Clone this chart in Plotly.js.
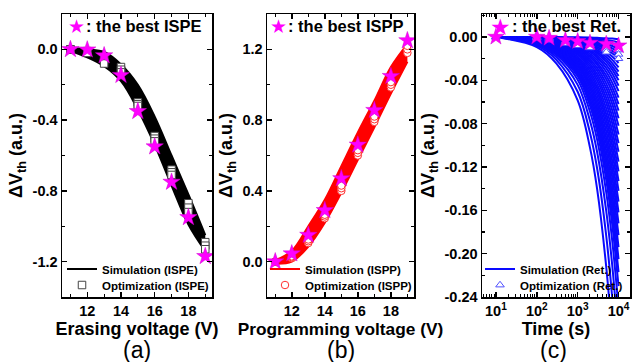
<!DOCTYPE html>
<html><head><meta charset="utf-8">
<script src="https://cdn.plot.ly/plotly-3.0.1.min.js"></script>
<style>html,body{margin:0;padding:0;background:#fff}#chart{width:632px;height:362px}</style>
</head><body><div id="chart"></div>
<script>
// ---------- data ----------
const voltage = [11, 12, 13, 14, 15, 16, 17, 18, 19];

// (a) ISPE
const ispeSimUpper = [0.008, 0.0, -0.015, -0.085, -0.2, -0.38, -0.6, -0.82, -1.05];
const ispeSimLower = [-0.008, -0.045, -0.095, -0.18, -0.34, -0.54, -0.77, -0.99, -1.14];
const ispeOpt1 = [0, -0.01, -0.05, -0.10, -0.30, -0.49, -0.68, -0.87, -1.09];
const ispeOpt2 = [0, -0.015, -0.065, -0.115, -0.31, -0.505, -0.695, -0.895, -1.11];
const ispeOpt3 = [0, -0.02, -0.08, -0.13, -0.32, -0.52, -0.71, -0.92, -1.13];
const ispeBest = [0, -0.002, -0.035, -0.146, -0.35, -0.55, -0.75, -0.95, -1.17];

// (b) ISPP
const isppSimUpper = [0.008, 0.06, 0.2, 0.35, 0.54, 0.73, 0.91, 1.1, 1.23];
const isppSimLower = [-0.012, 0.0, 0.085, 0.22, 0.39, 0.575, 0.76, 0.95, 1.13];
const isppOpt1 = [0, 0.02, 0.105, 0.245, 0.40, 0.60, 0.79, 0.985, 1.18];
const isppOpt2 = [0, 0.025, 0.115, 0.255, 0.415, 0.615, 0.805, 1.0, 1.20];
const isppOpt3 = [0, 0.03, 0.125, 0.265, 0.43, 0.63, 0.82, 1.015, 1.22];
const isppBest = [0, 0.045, 0.15, 0.29, 0.47, 0.66, 0.856, 1.048, 1.25];

// (c) Retention
const simTime = [10, 100, 300, 1000, 2000, 3000, 5000, 7000, 10000];
const retSim = [
  [0, -0.0001, -0.0001, -0.0003, -0.0006, -0.0008, -0.0011, -0.0015, -0.002],
  [0, -0.0001, -0.0003, -0.0008, -0.0014, -0.0019, -0.0029, -0.0038, -0.005],
  [0, -0.0002, -0.0005, -0.0013, -0.0022, -0.003, -0.0046, -0.006, -0.008],
  [0, -0.0003, -0.0007, -0.0017, -0.003, -0.0042, -0.0063, -0.0083, -0.011],
  [0, -0.0004, -0.0009, -0.0022, -0.0039, -0.0053, -0.008, -0.0105, -0.014],
  [0, -0.0004, -0.0011, -0.0027, -0.0047, -0.0065, -0.0098, -0.0128, -0.017],
  [0, -0.0005, -0.0013, -0.0032, -0.0055, -0.0076, -0.0115, -0.015, -0.02],
  [0, -0.0006, -0.0016, -0.0038, -0.0066, -0.0091, -0.0138, -0.018, -0.024],
  [0, -0.0007, -0.0018, -0.0044, -0.0077, -0.0106, -0.0161, -0.0211, -0.028],
  [0, -0.0008, -0.0021, -0.0051, -0.0088, -0.0122, -0.0184, -0.0241, -0.032],
  [0, -0.0009, -0.0024, -0.0057, -0.0099, -0.0137, -0.0207, -0.0271, -0.036],
  [0, -0.001, -0.0026, -0.0063, -0.011, -0.0152, -0.023, -0.0301, -0.04],
  [0, -0.0011, -0.003, -0.0071, -0.0124, -0.0171, -0.0258, -0.0338, -0.045],
  [0, -0.0013, -0.0033, -0.0079, -0.0138, -0.019, -0.0287, -0.0376, -0.05],
  [0, -0.0014, -0.0037, -0.0088, -0.0155, -0.0213, -0.0321, -0.0421, -0.056],
  [0, -0.0016, -0.0041, -0.0098, -0.0171, -0.0236, -0.0356, -0.0466, -0.062],
  [0, -0.0017, -0.0045, -0.0107, -0.0188, -0.0258, -0.039, -0.0511, -0.068],
  [0, -0.0019, -0.005, -0.0119, -0.0207, -0.0285, -0.0431, -0.0564, -0.075],
  [0, -0.0021, -0.0054, -0.013, -0.0226, -0.0312, -0.0471, -0.0617, -0.082],
  [0, -0.0023, -0.0059, -0.0142, -0.0248, -0.0342, -0.0517, -0.0677, -0.09],
  [0, -0.0025, -0.0065, -0.0155, -0.027, -0.0372, -0.0563, -0.0737, -0.098],
  [0, -0.0027, -0.007, -0.0167, -0.0293, -0.0403, -0.0608, -0.0797, -0.106],
  [0, -0.0029, -0.0076, -0.0182, -0.0317, -0.0437, -0.066, -0.0865, -0.115],
  [0, -0.0031, -0.0082, -0.0196, -0.0342, -0.0471, -0.0712, -0.0932, -0.124],
  [0, -0.0033, -0.0088, -0.021, -0.0367, -0.0505, -0.0763, -0.1, -0.133],
  [0, -0.0036, -0.0094, -0.0224, -0.0392, -0.054, -0.0815, -0.1068, -0.142],
  [0, -0.0038, -0.01, -0.024, -0.042, -0.0578, -0.0872, -0.1143, -0.152],
  [0, -0.0041, -0.0107, -0.0256, -0.0447, -0.0616, -0.093, -0.1218, -0.162],
  [0, -0.0043, -0.0114, -0.0272, -0.0475, -0.0654, -0.0987, -0.1293, -0.172],
  [0, -0.0046, -0.0121, -0.0289, -0.0505, -0.0695, -0.105, -0.1376, -0.183],
  [0, -0.0049, -0.0128, -0.0307, -0.0535, -0.0737, -0.1114, -0.1459, -0.194],
  [0, -0.0051, -0.0135, -0.0324, -0.0566, -0.0779, -0.1177, -0.1542, -0.205],
  [0, -0.0054, -0.0143, -0.0343, -0.0599, -0.0825, -0.1246, -0.1632, -0.217],
  [0, -0.0058, -0.0152, -0.0363, -0.0635, -0.0874, -0.132, -0.173, -0.23],
  [0, -0.0063, -0.0165, -0.0395, -0.069, -0.095, -0.1435, -0.188, -0.25],
  [0, -0.007, -0.0185, -0.0442, -0.0773, -0.1064, -0.1607, -0.2106, -0.28],
  [0, -0.008, -0.0211, -0.0506, -0.0883, -0.1216, -0.1837, -0.2406, -0.32],
  [0, -0.0093, -0.0244, -0.0585, -0.1021, -0.1406, -0.2124, -0.2782, -0.37]
];
const retTime = [10, 100, 200, 500, 1000, 2000, 5000, 10000];
const retOpt1 = [0, 0, -0.001, -0.004, -0.006, -0.007, -0.010, -0.012];
const retOpt2 = [0, -0.001, -0.002, -0.005, -0.007, -0.009, -0.012, -0.016];
const retOpt3 = [0, -0.001, -0.003, -0.006, -0.008, -0.010, -0.014, -0.020];
const retBest = [0, 0, -0.001, -0.003, -0.004, -0.0055, -0.0065, -0.008];

// tick labels
const voltTickVals = [12, 14, 16, 18];
const ispeTickVals = [0, -0.4, -0.8, -1.2];
const ispeTickText = ['0.0', '-0.4', '-0.8', '-1.2'];
const isppTickVals = [0, 0.4, 0.8, 1.2];
const isppTickText = ['0.0', '0.4', '0.8', '1.2'];
const retTickVals = [0, -0.04, -0.08, -0.12, -0.16, -0.20, -0.24];
const retTickText = ['0.00', '-0.04', '-0.08', '-0.12', '-0.16', '-0.20', '-0.24'];
const timeTickVals = [10, 100, 1000, 10000];
const timeTickText = ['10<sup>1</sup>', '10<sup>2</sup>', '10<sup>3</sup>', '10<sup>4</sup>'];

// ---------- styling ----------
const FONT = 'Liberation Sans, Arial, sans-serif';
const MAGENTA = '#ff00ff';
const tickF = {family: FONT, size: 14.5, color: '#000', weight: 'bold'};
const titleF = {family: FONT, size: 18, color: '#000', weight: 'bold'};
const legF = {family: FONT, size: 11.5, color: '#000', weight: 'bold'};
const NB = '\u00a0';

function starTrace(x, y, xa, ya, size) {
  return {x, y, xaxis: xa, yaxis: ya, type: 'scatter', mode: 'markers', showlegend: false,
    marker: {symbol: 'star', size: size, color: MAGENTA, line: {color: '#d000d0', width: 0.5}}};
}
function optTrace(x, y, xa, ya, sym, fill, edge, show, name, leg) {
  return {x, y, xaxis: xa, yaxis: ya, type: 'scatter', mode: 'markers', name, showlegend: show, legend: leg,
    marker: {symbol: sym, size: 7.5, color: fill, line: {color: edge, width: 1}}};
}

const traces = [];
// (a)
traces.push({x: voltage, y: ispeSimLower, xaxis: 'x', yaxis: 'y', mode: 'lines', name: 'Simulation (ISPE)',
  legend: 'legend', line: {color: '#000', width: 2, shape: 'spline'}});
traces.push({x: voltage, y: ispeSimUpper, xaxis: 'x', yaxis: 'y', mode: 'lines', showlegend: false,
  fill: 'tonexty', fillcolor: '#000', line: {color: '#000', width: 2, shape: 'spline'}});
traces.push(optTrace(voltage, ispeOpt1, 'x', 'y', 'square', '#fff', '#444', true, 'Optimization (ISPE)', 'legend4'));
traces.push(optTrace(voltage, ispeOpt2, 'x', 'y', 'square', '#fff', '#444', false, '', 'legend4'));
traces.push(optTrace(voltage, ispeOpt3, 'x', 'y', 'square', '#fff', '#444', false, '', 'legend4'));
traces.push(starTrace(voltage, ispeBest, 'x', 'y', 13));
// (b)
traces.push({x: voltage, y: isppSimLower, xaxis: 'x2', yaxis: 'y2', mode: 'lines', name: 'Simulation (ISPP)',
  legend: 'legend2', line: {color: '#ff0000', width: 2, shape: 'spline'}});
traces.push({x: voltage, y: isppSimUpper, xaxis: 'x2', yaxis: 'y2', mode: 'lines', showlegend: false,
  fill: 'tonexty', fillcolor: '#ff0000', line: {color: '#ff0000', width: 2, shape: 'spline'}});
traces.push(optTrace(voltage, isppOpt1, 'x2', 'y2', 'circle', '#fff', '#ff3030', true, 'Optimization (ISPP)', 'legend5'));
traces.push(optTrace(voltage, isppOpt2, 'x2', 'y2', 'circle', '#fff', '#ff3030', false, '', 'legend5'));
traces.push(optTrace(voltage, isppOpt3, 'x2', 'y2', 'circle', '#fff', '#ff3030', false, '', 'legend5'));
traces.push(starTrace(voltage, isppBest, 'x2', 'y2', 13));
// (c)
retSim.forEach((row, i) => {
  traces.push({x: simTime, y: row, xaxis: 'x3', yaxis: 'y3', mode: 'lines', name: 'Simulation (Ret.)',
    legend: 'legend3', showlegend: i === 0, line: {color: '#0a0aff', width: 2, shape: 'spline'}});
});
traces.push(optTrace(retTime, retOpt1, 'x3', 'y3', 'triangle-up', '#fff', '#5050ff', true, 'Optimization (Ret.)', 'legend6'));
traces.push(optTrace(retTime, retOpt2, 'x3', 'y3', 'triangle-up', '#fff', '#5050ff', false, '', 'legend6'));
traces.push(optTrace(retTime, retOpt3, 'x3', 'y3', 'triangle-up', '#fff', '#5050ff', false, '', 'legend6'));
traces.push(starTrace(retTime, retBest, 'x3', 'y3', 12.5));

const W = 632, H = 362;
const yDom = [1 - 297 / H, 1 - 14 / H];
function xax(dom, extra) {
  return Object.assign({domain: dom, showline: true, linewidth: 1.5, linecolor: '#000', mirror: 'ticks',
    ticks: 'inside', ticklen: 5, tickwidth: 1.5, tickcolor: '#000', showgrid: false, zeroline: false,
    tickfont: tickF}, extra);
}
const legBase = {bgcolor: 'rgba(0,0,0,0)', borderwidth: 0, font: legF, xanchor: 'left', yanchor: 'middle',
  tracegroupgap: 0, itemwidth: 30, traceorder: 'normal'};
function leg(xpx, ypx) { return Object.assign({}, legBase, {x: xpx / W, y: 1 - ypx / H}); }

const layout = {
  width: W, height: H, margin: {l: 0, r: 0, t: 0, b: 0}, paper_bgcolor: '#fff', plot_bgcolor: '#fff',
  font: {family: FONT, color: '#000'},
  xaxis: xax([62 / W, 212 / W], {anchor: 'y', range: [10.5, 19.4], tickvals: voltTickVals,
    minor: {dtick: 1, tick0: 11, ticks: 'inside', ticklen: 3, tickwidth: 1.2, tickcolor: '#000'},
    title: {text: 'Erasing voltage (V)', font: titleF, standoff: 3}}),
  yaxis: xax(yDom, {anchor: 'x', range: [-1.4, 0.2], tickvals: ispeTickVals, ticktext: ispeTickText,
    minor: {dtick: 0.2, tick0: 0, ticks: 'inside', ticklen: 3, tickwidth: 1.2, tickcolor: '#000'},
    title: {text: '\u0394V<sub>th</sub> (a.u.)', font: titleF, standoff: 5}}),
  xaxis2: xax([267 / W, 414 / W], {anchor: 'y2', range: [10.5, 19.4], tickvals: voltTickVals,
    minor: {dtick: 1, tick0: 11, ticks: 'inside', ticklen: 3, tickwidth: 1.2, tickcolor: '#000'},
    title: {text: NB.repeat(5) + 'Programming voltage (V)', font: Object.assign({}, titleF, {size: 17.3}), standoff: 3}}),
  yaxis2: xax(yDom, {anchor: 'x2', range: [-0.2, 1.4], tickvals: isppTickVals, ticktext: isppTickText,
    minor: {dtick: 0.2, tick0: 0, ticks: 'inside', ticklen: 3, tickwidth: 1.2, tickcolor: '#000'},
    title: {text: '\u0394V<sub>th</sub> (a.u.)', font: titleF, standoff: 5}}),
  xaxis3: xax([482 / W, 630 / W], {anchor: 'y3', type: 'log', range: [0.66, 4.28], tickvals: timeTickVals,
    ticktext: timeTickText,
    minor: {dtick: 'D1', ticks: 'inside', ticklen: 3, tickwidth: 1, tickcolor: '#000'},
    title: {text: 'Time (s)' + NB.repeat(2), font: titleF, standoff: 3}}),
  yaxis3: xax(yDom, {anchor: 'x3', range: [-0.24, 0.0212], tickvals: retTickVals, ticktext: retTickText,
    minor: {dtick: 0.02, tick0: 0, ticks: 'inside', ticklen: 3, tickwidth: 1.2, tickcolor: '#000'},
    title: {text: '\u0394V<sub>th</sub> (a.u.)', font: titleF, standoff: 5}}),
  legend: leg(62, 269), legend4: leg(62, 285),
  legend2: leg(265, 269), legend5: leg(265, 285),
  legend3: leg(480, 269), legend6: leg(480, 285),
  annotations: [
    {xref: 'paper', yref: 'paper', x: 76 / W, y: 1 - 26 / H, text: '\u2605', showarrow: false,
      font: {family: 'DejaVu Sans', size: 19, color: MAGENTA}, xanchor: 'center', yanchor: 'middle'},
    {xref: 'paper', yref: 'paper', x: 84 / W, y: 1 - 26 / H, text: ': the best ISPE', showarrow: false,
      font: {family: FONT, size: 16.5, color: '#000', weight: 'bold'}, xanchor: 'left', yanchor: 'middle'},
    {xref: 'paper', yref: 'paper', x: 278 / W, y: 1 - 26 / H, text: '\u2605', showarrow: false,
      font: {family: 'DejaVu Sans', size: 19, color: MAGENTA}, xanchor: 'center', yanchor: 'middle'},
    {xref: 'paper', yref: 'paper', x: 286 / W, y: 1 - 26 / H, text: ': the best ISPP', showarrow: false,
      font: {family: FONT, size: 16.5, color: '#000', weight: 'bold'}, xanchor: 'left', yanchor: 'middle'},
    {xref: 'paper', yref: 'paper', x: 500 / W, y: 1 - 27 / H, text: '\u2605', showarrow: false,
      font: {family: 'DejaVu Sans', size: 23, color: MAGENTA}, xanchor: 'center', yanchor: 'middle'},
    {xref: 'paper', yref: 'paper', x: 510 / W, y: 1 - 26 / H, text: ': the best Ret.', showarrow: false,
      font: {family: FONT, size: 16.5, color: '#000', weight: 'bold'}, xanchor: 'left', yanchor: 'middle'},
    {xref: 'paper', yref: 'paper', x: 137 / W, y: 1 - 350 / H, text: '(a)', showarrow: false,
      font: {family: FONT, size: 23, color: '#000'}, xanchor: 'center', yanchor: 'middle'},
    {xref: 'paper', yref: 'paper', x: 341 / W, y: 1 - 350 / H, text: '(b)', showarrow: false,
      font: {family: FONT, size: 23, color: '#000'}, xanchor: 'center', yanchor: 'middle'},
    {xref: 'paper', yref: 'paper', x: 553 / W, y: 1 - 350 / H, text: '(c)', showarrow: false,
      font: {family: FONT, size: 23, color: '#000'}, xanchor: 'center', yanchor: 'middle'}
  ]
};

Plotly.newPlot('chart', traces, layout, {displayModeBar: false, staticPlot: true});
</script></body></html>
